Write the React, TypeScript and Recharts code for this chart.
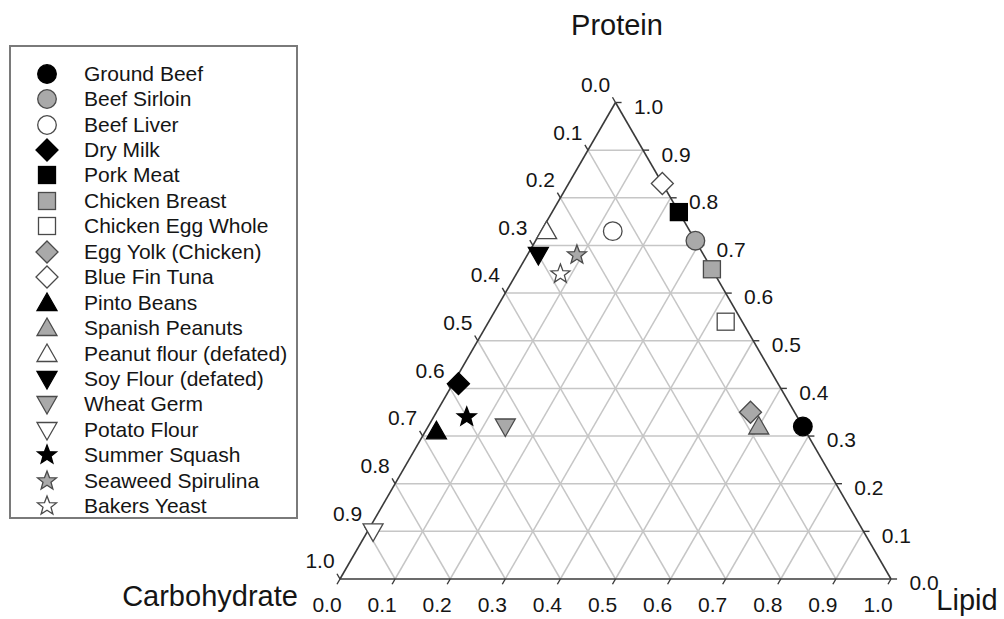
import React from 'react';
import { ScatterChart, Scatter, XAxis, YAxis, ReferenceLine, Legend } from 'recharts';

// composition (fractions)
const foods = [
  'Ground Beef', 'Beef Sirloin', 'Beef Liver', 'Dry Milk', 'Pork Meat', 'Chicken Breast',
  'Chicken Egg Whole', 'Egg Yolk (Chicken)', 'Blue Fin Tuna', 'Pinto Beans', 'Spanish Peanuts',
  'Peanut flour (defated)', 'Soy Flour (defated)', 'Wheat Germ', 'Potato Flour', 'Summer Squash',
  'Seaweed Spirulina', 'Bakers Yeast',
];
const protein = [0.32, 0.71, 0.73, 0.41, 0.77, 0.65, 0.54, 0.35, 0.83, 0.31, 0.32, 0.73, 0.68, 0.32, 0.10, 0.34, 0.68, 0.64];
const lipid = [0.68, 0.29, 0.13, 0.01, 0.23, 0.35, 0.43, 0.57, 0.17, 0.02, 0.60, 0.01, 0.02, 0.14, 0.01, 0.06, 0.09, 0.08];
const carbohydrate = [0.00, 0.00, 0.14, 0.58, 0.00, 0.00, 0.03, 0.08, 0.00, 0.67, 0.08, 0.26, 0.30, 0.54, 0.89, 0.60, 0.23, 0.28];

const tickValues = [0.0, 0.1, 0.2, 0.3, 0.4, 0.5, 0.6, 0.7, 0.8, 0.9, 1.0];
const gridValues = [0.1, 0.2, 0.3, 0.4, 0.5, 0.6, 0.7, 0.8, 0.9];

// marker styles, one per food
const shapes = [
  'circle', 'circle', 'circle', 'diamond', 'square', 'square', 'square', 'diamond', 'diamond',
  'triangle', 'triangle', 'triangle', 'triangleDown', 'triangleDown', 'triangleDown', 'star', 'star', 'star',
];
const tones = [
  'black', 'gray', 'white', 'black', 'black', 'gray', 'white', 'gray', 'white',
  'black', 'gray', 'white', 'black', 'gray', 'white', 'black', 'gray', 'white',
];

const FONT = 'Arial, "Liberation Sans", Helvetica, sans-serif';
const H = Math.sqrt(3) / 2;
const TICK = 0.011;

const toXY = (p: number, l: number, c: number) => {
  const s = p + l + c;
  return { x: (l + p / 2) / s, y: (p / s) * H };
};

const toneStyle = (tone: string) => {
  if (tone === 'black') return { fill: '#000', stroke: '#000' };
  if (tone === 'gray') return { fill: '#a9a9a9', stroke: '#4a4a4a' };
  return { fill: '#fff', stroke: '#4a4a4a' };
};

const Marker = ({ cx, cy, kind, tone }: { cx: number; cy: number; kind: string; tone: string }) => {
  const st = { ...toneStyle(tone), strokeWidth: 1.3 };
  if (kind === 'circle') return <circle cx={cx} cy={cy} r={9.3} {...st} />;
  if (kind === 'square') return <rect x={cx - 8.5} y={cy - 8.5} width={17} height={17} {...st} />;
  if (kind === 'diamond') {
    const d = 11;
    return <polygon points={`${cx},${cy - d} ${cx + d},${cy} ${cx},${cy + d} ${cx - d},${cy}`} {...st} />;
  }
  if (kind === 'triangle') {
    return <polygon points={`${cx},${cy - 10} ${cx + 10},${cy + 7.5} ${cx - 10},${cy + 7.5}`} {...st} />;
  }
  if (kind === 'triangleDown') {
    return <polygon points={`${cx - 10},${cy - 7.5} ${cx + 10},${cy - 7.5} ${cx},${cy + 10}`} {...st} />;
  }
  const pts: string[] = [];
  for (let i = 0; i < 10; i++) {
    const r = i % 2 === 0 ? 10 : 4.2;
    const a = -Math.PI / 2 + (i * Math.PI) / 5;
    pts.push(`${cx + r * Math.cos(a)},${cy + r * Math.sin(a)}`);
  }
  return <polygon points={pts.join(' ')} {...st} />;
};

const gridSegments = gridValues.flatMap((k) => [
  [toXY(k, 0, 1 - k), toXY(k, 1 - k, 0)],
  [toXY(0, k, 1 - k), toXY(1 - k, k, 0)],
  [toXY(0, 1 - k, k), toXY(1 - k, 0, k)],
]);

const edgeSegments = [
  [toXY(0, 0, 1), toXY(0, 1, 0)],
  [toXY(0, 1, 0), toXY(1, 0, 0)],
  [toXY(1, 0, 0), toXY(0, 0, 1)],
];

const tickSegments = tickValues.flatMap((k) => {
  const left = toXY(1 - k, 0, k);
  const right = toXY(k, 1 - k, 0);
  const bottom = toXY(0, k, 1 - k);
  return [
    [left, { x: left.x - 0.5 * TICK, y: left.y + H * TICK }],
    [right, { x: right.x + TICK, y: right.y }],
    [bottom, { x: bottom.x - 0.5 * TICK, y: bottom.y - H * TICK }],
  ];
});

const carbLabels = tickValues.map((k) => ({ ...toXY(1 - k, 0, k), text: k.toFixed(1) }));
const proteinLabels = tickValues.map((k) => ({ ...toXY(k, 1 - k, 0), text: k.toFixed(1) }));
const lipidLabels = tickValues.map((k) => ({ ...toXY(0, k, 1 - k), text: k.toFixed(1) }));

const titles = [
  { ...toXY(1, 0, 0), text: 'Protein', dx: 1.5, dy: -67.5 },
  { ...toXY(0, 0, 1), text: 'Carbohydrate', dx: -130, dy: 27 },
  { ...toXY(0, 1, 0), text: 'Lipid', dx: 76, dy: 31 },
];

const labelShape = (dx: number, dy: number) => (props: any) => (
  <text
    x={props.cx + dx}
    y={props.cy + dy}
    dy="0.35em"
    textAnchor="middle"
    fontSize={21}
    fontFamily={FONT}
    fill="#151515"
  >
    {props.payload.text}
  </text>
);

const titleShape = (props: any) => (
  <text
    x={props.cx + props.payload.dx}
    y={props.cy + props.payload.dy}
    textAnchor="middle"
    fontSize={29}
    fontFamily={FONT}
    fill="#151515"
  >
    {props.payload.text}
  </text>
);

const LegendBox = () => (
  <div style={{ paddingTop: 14, fontFamily: FONT, fontSize: 21, color: '#151515' }}>
    {foods.map((name, i) => (
      <div key={name} style={{ display: 'flex', alignItems: 'center', height: 25.45 }}>
        <svg width={73} height={24} style={{ flex: 'none' }}>
          <Marker cx={36} cy={12} kind={shapes[i]} tone={tones[i]} />
        </svg>
        <span style={{ whiteSpace: 'nowrap' }}>{name}</span>
      </div>
    ))}
  </div>
);

export default function App() {
  return (
    <div style={{ position: 'absolute', left: 0, top: 0, background: '#fff' }}>
      <ScatterChart width={1004} height={619} margin={{ top: 102.5, right: 113, bottom: 40, left: 340 }}>
        <XAxis type="number" dataKey="x" domain={[0, 1]} hide />
        <YAxis type="number" dataKey="y" domain={[0, H]} hide />
        {gridSegments.map((s, i) => (
          <ReferenceLine key={`g${i}`} segment={s} stroke="#c6c6c6" strokeWidth={1.5} ifOverflow="visible" />
        ))}
        {edgeSegments.map((s, i) => (
          <ReferenceLine key={`e${i}`} segment={s} stroke="#3a3a3a" strokeWidth={1.6} ifOverflow="visible" />
        ))}
        {tickSegments.map((s, i) => (
          <ReferenceLine key={`t${i}`} segment={s} stroke="#3a3a3a" strokeWidth={1.4} ifOverflow="visible" />
        ))}
        <Scatter data={carbLabels} shape={labelShape(-20, -18)} isAnimationActive={false} legendType="none" />
        <Scatter data={proteinLabels} shape={labelShape(33, 4)} isAnimationActive={false} legendType="none" />
        <Scatter data={lipidLabels} shape={labelShape(-13, 26)} isAnimationActive={false} legendType="none" />
        <Scatter data={titles} shape={titleShape} isAnimationActive={false} legendType="none" />
        {foods.map((name, i) => (
          <Scatter
            key={name}
            name={name}
            data={[toXY(protein[i], lipid[i], carbohydrate[i])]}
            isAnimationActive={false}
            shape={(props: any) => <Marker cx={props.cx} cy={props.cy} kind={shapes[i]} tone={tones[i]} />}
          />
        ))}
        <Legend
          layout="vertical"
          align="center"
          verticalAlign="middle"
          content={() => <LegendBox />}
          wrapperStyle={{
            left: 9,
            top: 45,
            width: 289,
            height: 474,
            border: '2px solid #7a7a7a',
            boxSizing: 'border-box',
            background: '#fff',
          }}
        />
      </ScatterChart>
    </div>
  );
}
